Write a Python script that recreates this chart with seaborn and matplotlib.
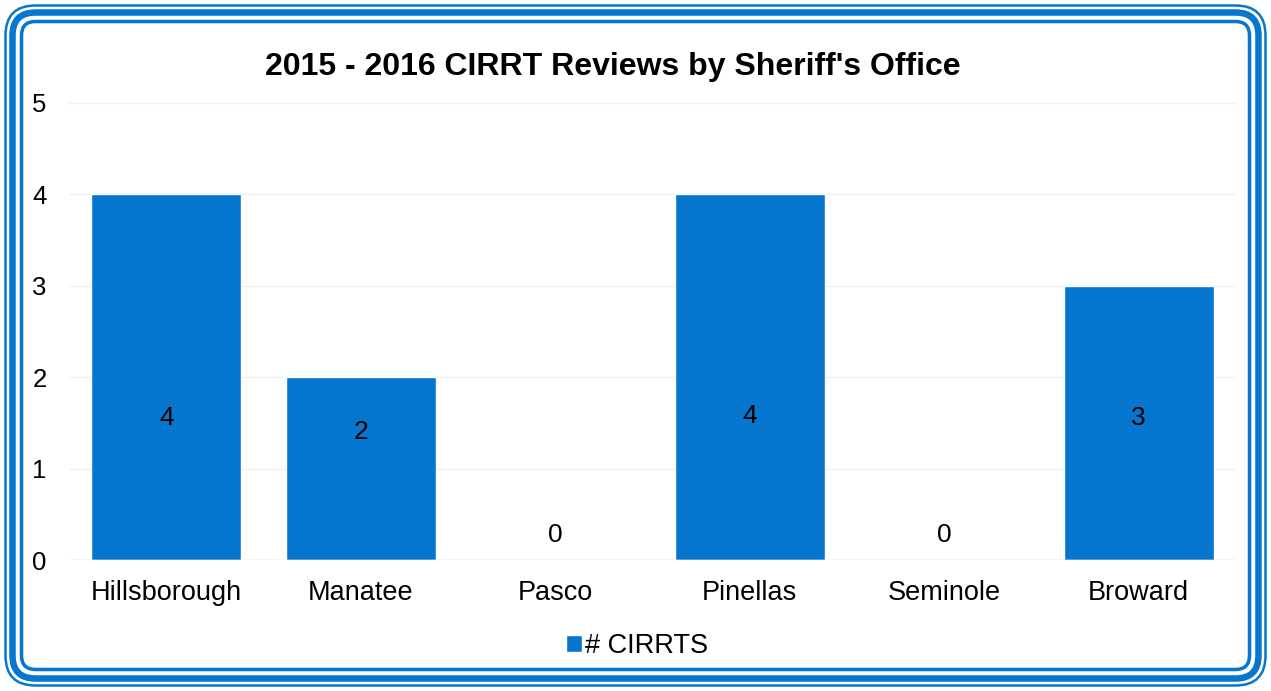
#!/usr/bin/env python3
# -*- coding: utf-8 -*-
"""
plot.py

Bar chart of CIRRT reviews by sheriff's office
"""

import matplotlib.pyplot as plt
import numpy as np
import pandas as pd
import seaborn as sns
from matplotlib.patches import FancyBboxPatch

offices = ["Hillsborough", "Manatee", "Pasco", "Pinellas", "Seminole", "Broward"]
reviews = [4, 2, 0, 4, 0, 3]
series_name = "# CIRRTS"
y_ticks = [0, 1, 2, 3, 4, 5]
title = "2015 - 2016 CIRRT Reviews by Sheriff's Office"

BLUE = "#0776CF"
W, H, DPI = 1271, 691, 100


def add_border(fig):
    """Triple rounded frame drawn in pixel coordinates."""
    # (inset, line width px, corner radius)
    for inset, lw, rad in [(5.5, 2.5, 30), (12.5, 6.5, 23), (21.5, 3.5, 14)]:
        box = FancyBboxPatch(
            (inset + rad, inset + rad),
            W - 2 * (inset + rad),
            H - 2 * (inset + rad),
            boxstyle=f"round,pad={rad}",
            transform=None,
            fill=False,
            edgecolor=BLUE,
            linewidth=lw * 72 / DPI,
            zorder=10,
        )
        fig.patches.append(box)


sns.set_theme(style="white")
plt.rcParams["font.family"] = ["Liberation Sans", "DejaVu Sans"]

df = pd.DataFrame({"office": offices, "count": reviews, "series": series_name})

fig = plt.figure(figsize=(W / DPI, H / DPI), dpi=DPI)
ax = fig.add_axes([69 / W, 1 - 560 / H, (1236 - 69) / W, (560 - 103) / H])

sns.barplot(
    data=df,
    x="office",
    y="count",
    hue="series",
    palette=[BLUE],
    width=0.77,
    saturation=1,
    ax=ax,
    zorder=2,
)

ax.set_ylim(0, 5)
ax.set_yticks(y_ticks)
ax.set_xlabel("")
ax.set_ylabel("")
ax.yaxis.grid(True, color="#F0F0F0", linewidth=1, zorder=0)
ax.axhline(0, color="#D9D9D9", linewidth=1, zorder=3)
for s in ax.spines.values():
    s.set_visible(False)
ax.tick_params(axis="y", length=0, pad=16, labelsize=18.5, colors="black")
ax.tick_params(axis="x", length=0, pad=14.5, labelsize=19.5, colors="black")

# data labels, placed roughly where the original has them
label_y = [1.55, 1.40, 0.27, 1.58, 0.27, 1.55]
for i, (v, ly) in enumerate(zip(reviews, label_y)):
    ax.text(i, ly, str(v), ha="center", va="center", fontsize=19, color="black", zorder=4)

fig.text(613 / W, 1 - 67 / H, title, ha="center", va="center",
         fontsize=23, fontweight="bold", color="black")

sns.move_legend(
    ax,
    "center",
    bbox_to_anchor=(637 / W, 1 - 646 / H),
    bbox_transform=fig.transFigure,
    title=None,
    frameon=False,
    fontsize=19.5,
    labelcolor="black",
    handlelength=0.6,
    handleheight=0.6,
    handletextpad=0.12,
)

add_border(fig)

fig.savefig("out.png", dpi=DPI, facecolor="white")
